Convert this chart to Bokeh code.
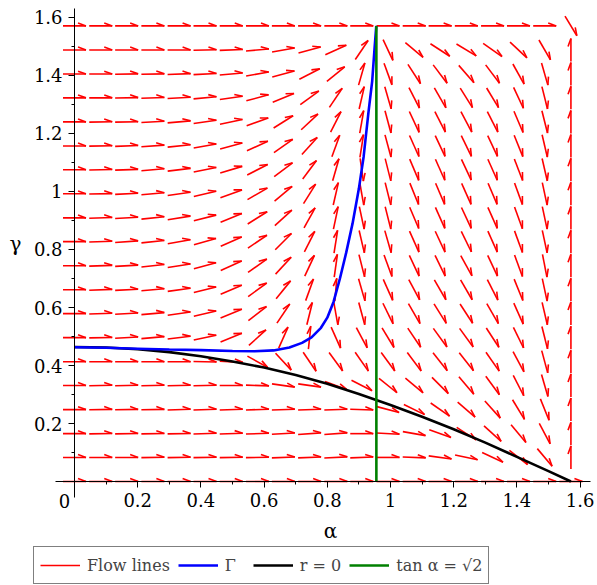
import math
from bokeh.plotting import figure
from bokeh.models import (LinearAxis, FixedTicker, CustomJSTickFormatter, Range1d,
                          Legend, LegendItem, Label, ColumnDataSource)
from bokeh.embed import file_html
from bokeh.resources import INLINE

# ---------------- data ----------------
# grid of the direction field (alpha across, gamma up)
alpha_grid = [0.000, 0.083, 0.165, 0.248, 0.331, 0.413, 0.496, 0.579, 0.661, 0.744,
              0.827, 0.909, 0.992, 1.075, 1.157, 1.240, 1.323, 1.405, 1.488, 1.571]
gamma_grid = [0.000, 0.083, 0.165, 0.248, 0.331, 0.413, 0.496, 0.579, 0.661, 0.744,
              0.827, 0.909, 0.992, 1.075, 1.157, 1.240, 1.323, 1.405, 1.488, 1.571]

# arrow directions (degrees, as seen on the page); rows listed from the top row down
arrow_angle_rows_top_down = [
    [0, 0, 0, 0, 0, 0, 0, 0, 0, 0, 0, 0, 0, 0, 0, 0, 0, 0, 0, -59],
    [0, 0, 0, 0, 0, 1, 2, 5, 10, 15, 24, 56, -65, -40, -33, -31, -35, -43, -60, 90],
    [0, 0, 1, 1, 2, 3, 5, 10, 15, 27, 39, 74, -70, -57, -53, -49, -53, -61, -74, 90],
    [0, 0, 1, 2, 3, 5, 8, 15, 22, 36, 56, 77, -74, -63, -60, -58, -59, -65, -76, 90],
    [0, 1, 1, 3, 5, 8, 12, 20, 32, 43, 63, 80, -75, -65, -63, -62, -63, -67, -76, 90],
    [0, 1, 2, 4, 6, 10, 15, 24, 35, 48, 70, 81, -75, -66, -65, -64, -65, -68, -77, 90],
    [0, 1, 2, 5, 7, 11, 17, 27, 37, 53, 74, -82, -76, -67, -66, -65, -66, -69, -77, 90],
    [0, 1, 3, 5, 8, 13, 20, 30, 40, 58, 77, -80, -76, -68, -67, -66, -67, -70, -78, 90],
    [0, 2, 3, 6, 9, 14, 22, 32, 42, 61, 78, -78, -76, -67, -66, -65, -66, -70, -78, 90],
    [0, 2, 4, 6, 10, 16, 24, 34, 45, 63, 81, -77, -74, -66, -65, -64, -66, -70, -78, 90],
    [0, 2, 3, 6, 9, 15, 24, 35, 47, 65, 82, -76, -70, -65, -64, -61, -65, -70, -79, 90],
    [0, 2, 3, 5, 8, 14, 23, 36, 51, 70, 85, -74, -66, -62, -60, -60, -63, -68, -78, 90],
    [0, 2, 3, 5, 8, 13, 22, 38, 56, 76, -80, -75, -64, -60, -58, -57, -60, -66, -77, 90],
    [0, 1, 3, 5, 7, 12, 22, 42, 66, 84, -66, -62, -59, -56, -54, -54, -57, -64, -76, 90],
    [0, 0, 0, 0, 0, -1, -3, -29, -47, -56, -54, -55, -54, -53, -52, -52, -55, -62, -75, 90],
    [0, 1, 1, 1, 1, 1, 0, -2, -8, -8, -20, -27, -39, -40, -45, -50, -54, -63, -74, 90],
    [0, 1, 1, 1, 2, 2, 2, 2, 2, 2, 2, -2, -15, -26, -35, -41, -48, -59, -68, 90],
    [0, 1, 1, 1, 1, 2, 2, 2, 3, 4, 4, 0, -3, -10, -20, -33, -42, -50, -62, 90],
    [0, 0, 0, 1, 1, 1, 1, 1, 2, 2, 3, 2, 0, -2, -8, -12, -25, -38, -50, 90],
    [0, 0, 0, 0, 0, 0, 0, 0, 0, 0, 0, 0, 0, 0, 0, 0, 0, 0, 0, 0],
]

# curve Gamma (blue)
big_gamma_alpha = [0.0, 0.1, 0.2, 0.3, 0.4, 0.5, 0.57, 0.63, 0.68, 0.72, 0.75, 0.78,
                   0.80, 0.82, 0.84, 0.86, 0.88, 0.90, 0.915, 0.93, 0.942, 0.95, 0.955]
big_gamma_gamma = [0.463, 0.461, 0.458, 0.455, 0.453, 0.450, 0.449, 0.452, 0.462, 0.478,
                   0.497, 0.530, 0.565, 0.620, 0.700, 0.790, 0.890, 1.010, 1.120, 1.270,
                   1.380, 1.500, 1.571]

# curve r = 0 (black)
r0_alpha = [0.0, 0.1, 0.2, 0.3, 0.4, 0.5, 0.6, 0.7, 0.8, 0.9, 1.0, 1.1, 1.2, 1.3,
            1.4, 1.5, 1.571]
r0_gamma = [0.464, 0.462, 0.456, 0.446, 0.432, 0.414, 0.393, 0.367, 0.337, 0.302,
            0.264, 0.223, 0.180, 0.134, 0.085, 0.036, 0.0]

# line tan(alpha) = sqrt(2) (green)
tan_line_alpha = [0.9553, 0.9553]
tan_line_gamma = [0.0, 1.5708]

# axis ticks
x_major_ticks = [0.2, 0.4, 0.6, 0.8, 1.0, 1.2, 1.4, 1.6]
x_minor_ticks = [0.1, 0.3, 0.5, 0.7, 0.9, 1.1, 1.3, 1.5]
y_major_ticks = [0.2, 0.4, 0.6, 0.8, 1.0, 1.2, 1.4, 1.6]
y_minor_ticks = [0.1, 0.3, 0.5, 0.7, 0.9, 1.1, 1.3, 1.5]

# ---------------- figure (frame = whole canvas) ----------------
W, H = 597, 585
X0, X1 = -0.2342, 1.6551
Y0, Y1 = -0.3586, 1.6586
SX = W / (X1 - X0)   # px per data unit
SY = H / (Y1 - Y0)

SERIF = "DejaVu Serif"

p = figure(frame_width=W, frame_height=H,
           x_range=Range1d(X0, X1), y_range=Range1d(Y0, Y1),
           x_axis_type=None, y_axis_type=None,
           toolbar_location=None, output_backend="svg",
           min_border=0, min_border_left=0, min_border_right=0,
           min_border_top=0, min_border_bottom=0)
p.outline_line_color = None
p.background_fill_color = "white"
p.border_fill_color = "white"

# ---------------- arrows ----------------
HALF = 11.5      # half shaft length, px
BARB = 8.5       # barb length, px
BARB_ANG = 20.0  # barb opening, deg
sx0, sy0, sx1, sy1 = [], [], [], []
bx0, by0, bx1, by1 = [], [], [], []
n = len(gamma_grid)
for r, row in enumerate(arrow_angle_rows_top_down):
    g = gamma_grid[n - 1 - r]
    for i, ang in enumerate(row):
        a = alpha_grid[i]
        t = math.radians(ang)
        dx, dy = math.cos(t) / SX, math.sin(t) / SY
        tx, ty = a + HALF * dx, g + HALF * dy
        sx0.append(a - HALF * dx); sy0.append(g - HALF * dy)
        sx1.append(tx); sy1.append(ty)
        tb = t + math.pi - math.radians(BARB_ANG)
        bx0.append(tx + BARB * math.cos(tb) / SX); by0.append(ty + BARB * math.sin(tb) / SY)
        bx1.append(tx); by1.append(ty)

shaft_src = ColumnDataSource(dict(x0=sx0, y0=sy0, x1=sx1, y1=sy1))
barb_src = ColumnDataSource(dict(x0=bx0, y0=by0, x1=bx1, y1=by1))
RED = "#ff0000"
shafts = p.segment("x0", "y0", "x1", "y1", source=shaft_src, line_color=RED, line_width=1.6)
p.segment("x0", "y0", "x1", "y1", source=barb_src, line_color=RED, line_width=1.6)

# ---------------- curves ----------------
black = p.line(r0_alpha, r0_gamma, line_color="black", line_width=2.6)
blue = p.line(big_gamma_alpha, big_gamma_gamma, line_color="#0000ff", line_width=2.6)
green = p.line(tan_line_alpha, tan_line_gamma, line_color="#008000", line_width=2.6)

# ---------------- axes (crossing at the origin) ----------------
fmt = CustomJSTickFormatter(code="return (Math.round(tick*10)/10).toString();")
common = dict(axis_line_color="black", axis_line_width=1,
              major_tick_line_color="black", minor_tick_line_color="black",
              major_tick_in=0, minor_tick_in=0, major_tick_out=6, minor_tick_out=3,
              major_label_text_font=SERIF, major_label_text_font_size="18px",
              major_label_text_color="black", formatter=fmt, fixed_location=0)
xaxis = LinearAxis(ticker=FixedTicker(ticks=x_major_ticks, minor_ticks=x_minor_ticks),
                   major_label_standoff=5, bounds=(-0.0601, 1.633), **common)
yaxis = LinearAxis(ticker=FixedTicker(ticks=y_major_ticks, minor_ticks=y_minor_ticks),
                   major_label_standoff=6, bounds=(-0.0552, 1.631), **common)
p.add_layout(xaxis, "below")
p.add_layout(yaxis, "left")

lab = dict(x_units="screen", y_units="screen", text_font=SERIF, text_color="black",
           text_align="center", text_baseline="middle")
p.add_layout(Label(x=330, y=55, text="α", text_font_size="20px", **lab))
p.add_layout(Label(x=15, y=342, text="γ", text_font_size="20px", **lab))
p.add_layout(Label(x=64, y=85, text="0", text_font_size="18px", **lab))

# ---------------- legend ----------------
legend = Legend(items=[LegendItem(label="Flow lines", renderers=[shafts]),
                       LegendItem(label="Γ", renderers=[blue]),
                       LegendItem(label="r = 0", renderers=[black]),
                       LegendItem(label="tan α = √2", renderers=[green])],
                orientation="horizontal", location=(33, 1),
                glyph_width=40, glyph_height=24, label_height=24, label_standoff=7,
                spacing=8, padding=6, margin=0,
                label_text_font=SERIF, label_text_font_size="16px",
                border_line_color="black", border_line_width=1,
                background_fill_color="white", background_fill_alpha=1.0)
p.add_layout(legend, "center")

open("out.html", "w").write(file_html(p, INLINE))
